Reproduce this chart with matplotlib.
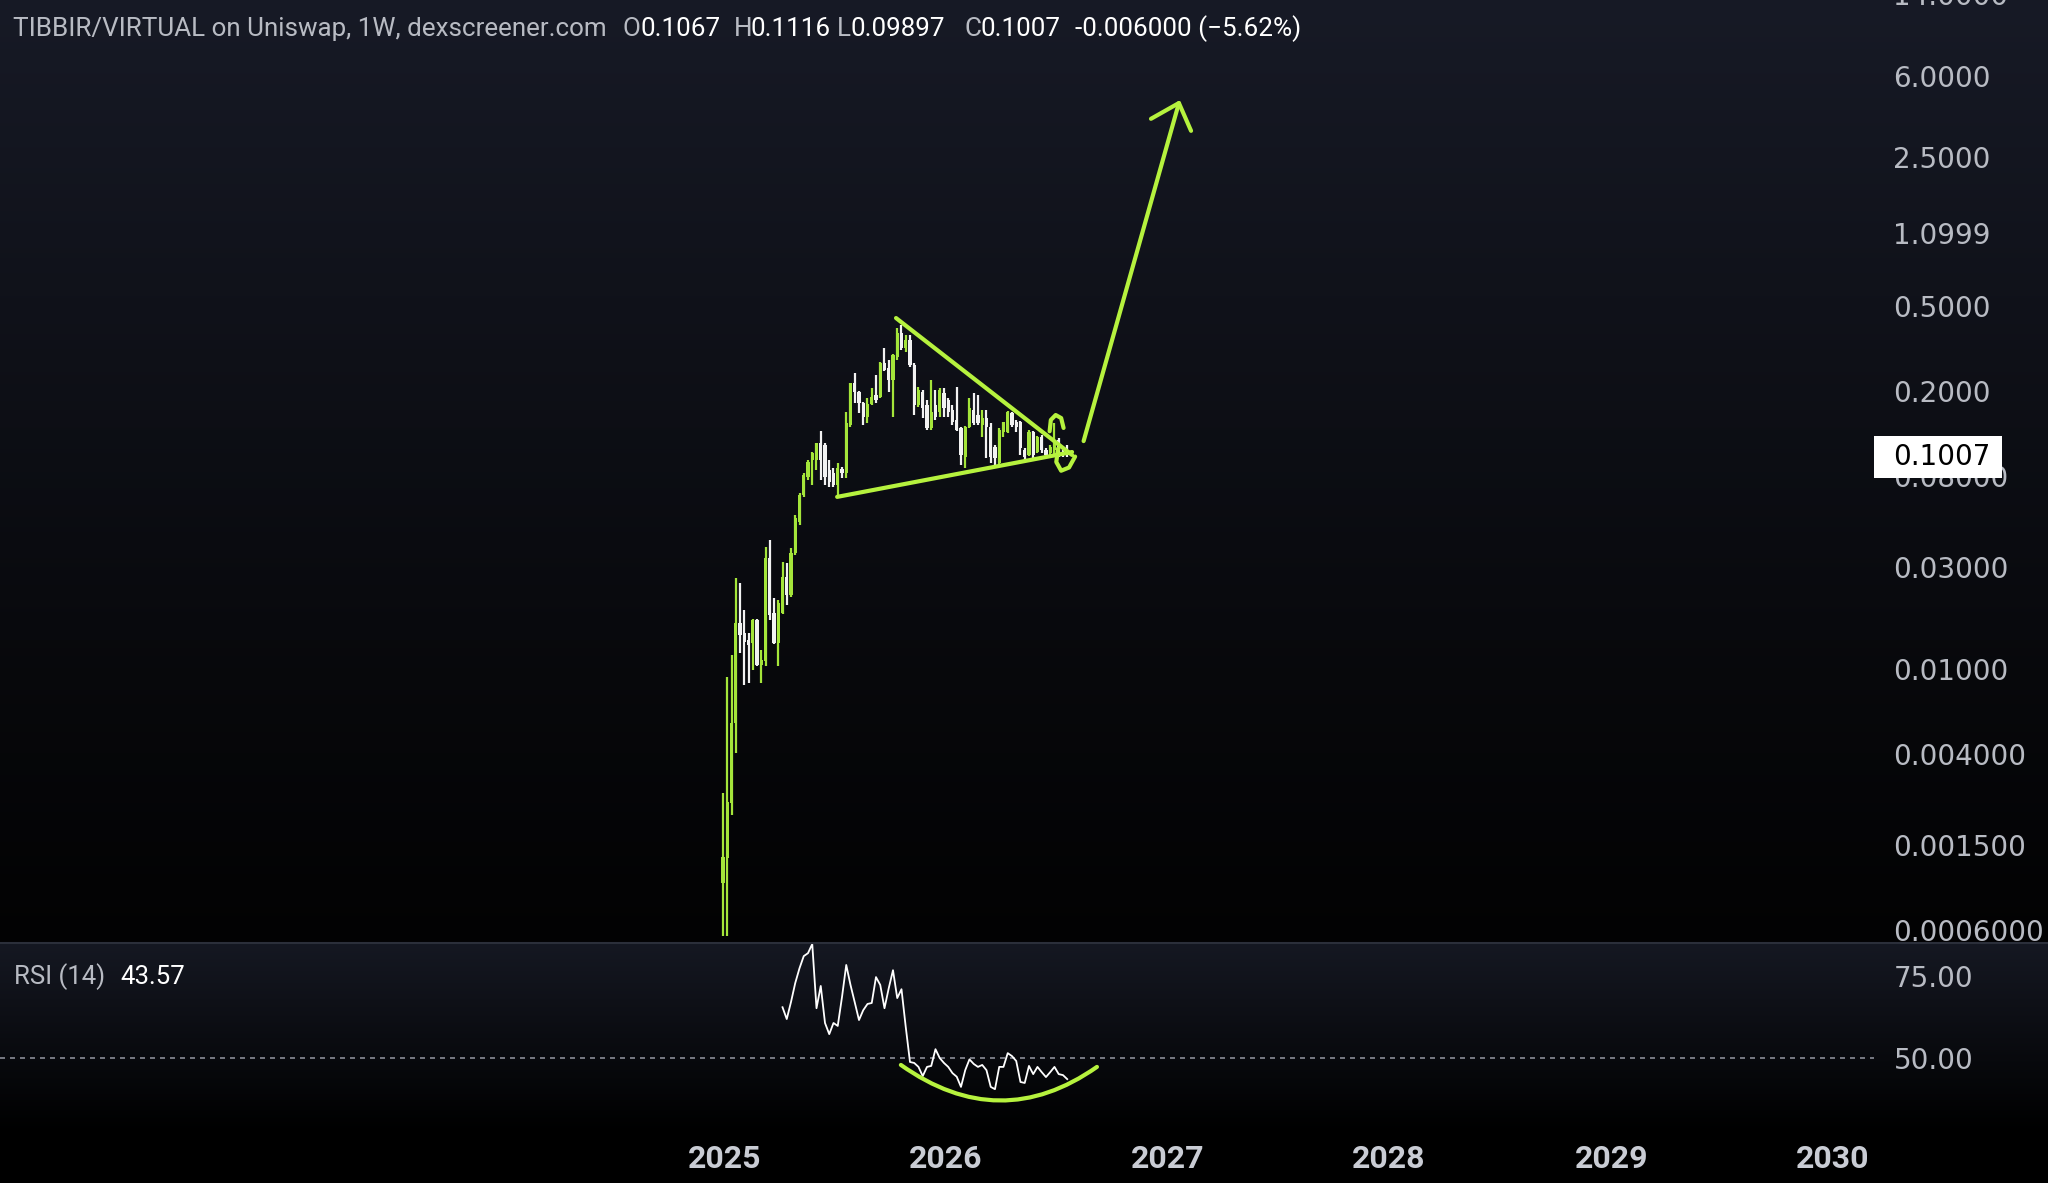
import numpy as np
import pandas as pd
import matplotlib
matplotlib.use("Agg")
import matplotlib.pyplot as plt
import matplotlib.dates as mdates
import matplotlib.transforms as mtransforms
from matplotlib.path import Path
from matplotlib.patches import PathPatch, Rectangle

W, H = 2048, 1183

# --- weekly candles ---
weeks = pd.date_range("2024-12-30", periods=82, freq="7D")

opens = [0.00100, 0.00131, 0.00237, 0.0056, 0.0164, 0.0148, 0.0137, 0.0133, 0.0170, 0.0105,
         0.0109, 0.0332, 0.0184, 0.0133, 0.0184, 0.0271, 0.0223, 0.0350, 0.0489, 0.0655,
         0.0795, 0.0954, 0.0954, 0.1147, 0.1122, 0.0857, 0.0830, 0.0729, 0.0865, 0.0830,
         0.1392, 0.2190, 0.1987, 0.1765, 0.1518, 0.1745, 0.1924, 0.1883, 0.2718, 0.2575,
         0.2262, 0.2900, 0.3756, 0.3195, 0.3484, 0.2660, 0.1727, 0.1987, 0.1727, 0.1348,
         0.1727, 0.1602, 0.1965, 0.1823, 0.1637, 0.1469, 0.1348, 0.0985, 0.1362, 0.1637,
         0.1551, 0.1392, 0.1500, 0.1362, 0.1098, 0.0923, 0.1290, 0.1290, 0.1585, 0.1438,
         0.1438, 0.1063, 0.1007, 0.1290, 0.1040, 0.1224, 0.1063, 0.1029, 0.1063, 0.1184,
         0.1040, 0.1067]
highs = [0.00263, 0.0092, 0.0117, 0.0268, 0.0254, 0.0190, 0.0148, 0.0172, 0.0172, 0.0123,
         0.0374, 0.0403, 0.0216, 0.0211, 0.0318, 0.0315, 0.0370, 0.0528, 0.0669, 0.0830,
         0.0954, 0.1040, 0.1150, 0.1305, 0.1147, 0.0954, 0.0875, 0.0923, 0.0885, 0.1602,
         0.2200, 0.2439, 0.2000, 0.1780, 0.1863, 0.2075, 0.2388, 0.2748, 0.3195, 0.2807,
         0.2990, 0.3970, 0.4096, 0.3677, 0.3677, 0.2718, 0.2100, 0.2031, 0.1823, 0.2262,
         0.2031, 0.2075, 0.2075, 0.1863, 0.1727, 0.2100, 0.1362, 0.1370, 0.1863, 0.1965,
         0.1924, 0.1637, 0.1637, 0.1422, 0.1122, 0.1348, 0.1445, 0.1620, 0.1602, 0.1469,
         0.1450, 0.1086, 0.1319, 0.1300, 0.1235, 0.1250, 0.1086, 0.1122, 0.1422, 0.1210,
         0.1063, 0.1116]
lows = [0.00056, 0.00056, 0.00208, 0.00406, 0.0119, 0.0084, 0.0086, 0.0099, 0.0103, 0.0086,
        0.0103, 0.0170, 0.0131, 0.0103, 0.0182, 0.0200, 0.0218, 0.0343, 0.0474, 0.0641,
        0.0769, 0.0729, 0.0857, 0.0769, 0.0729, 0.0714, 0.0714, 0.0655, 0.0785, 0.0785,
        0.1362, 0.1765, 0.1585, 0.1392, 0.1422, 0.1727, 0.1765, 0.1860, 0.2495, 0.1987,
        0.1518, 0.2807, 0.3127, 0.3060, 0.2605, 0.1551, 0.1690, 0.1500, 0.1319, 0.1319,
        0.1469, 0.1518, 0.1518, 0.1518, 0.1392, 0.1300, 0.0904, 0.0875, 0.1348, 0.1392,
        0.1392, 0.1224, 0.0975, 0.0923, 0.0904, 0.0915, 0.1224, 0.1270, 0.1362, 0.1290,
        0.1007, 0.0954, 0.0995, 0.0975, 0.1029, 0.1029, 0.0985, 0.1007, 0.1007, 0.0985,
        0.0985, 0.09897]
closes = [0.00132, 0.00239, 0.0056, 0.0164, 0.0145, 0.0134, 0.0130, 0.0170, 0.0105, 0.0111,
          0.0332, 0.0180, 0.0133, 0.0204, 0.0271, 0.0223, 0.0350, 0.0511, 0.0655, 0.0812,
          0.0935, 0.1029, 0.1147, 0.0954, 0.0795, 0.0753, 0.0729, 0.0875, 0.0830, 0.1422,
          0.2190, 0.1987, 0.1765, 0.1518, 0.1745, 0.1883, 0.1823, 0.2718, 0.2520, 0.2262,
          0.2963, 0.3756, 0.3195, 0.3484, 0.2660, 0.1727, 0.2031, 0.1672, 0.1348, 0.1602,
          0.1518, 0.2031, 0.1672, 0.1602, 0.1438, 0.1319, 0.1007, 0.1362, 0.1672, 0.1422,
          0.1422, 0.1500, 0.1362, 0.0985, 0.0975, 0.1319, 0.1438, 0.1602, 0.1392, 0.1362,
          0.1086, 0.0985, 0.1290, 0.1007, 0.1224, 0.1063, 0.1007, 0.1098, 0.1184, 0.1040,
          0.1007, 0.1007]

# RSI(14), starts on the 15th candle
rsi_vals = [65.5, 61.9, 67.1, 72.9, 77.4, 81.1, 82.0, 84.8, 65.2, 72.0,
            60.7, 57.3, 60.7, 59.8, 68.6, 78.4, 72.3, 67.0, 61.6, 64.6,
            66.5, 66.8, 74.7, 72.3, 65.2, 71.3, 76.8, 68.3, 71.0, 59.5,
            48.8, 48.5, 47.3, 44.5, 47.3, 47.6, 52.7, 50.0, 48.5, 47.3,
            45.4, 44.3, 41.2, 46.3, 49.6, 48.2, 47.3, 47.9, 46.3, 41.2,
            40.5, 47.3, 47.3, 51.5, 50.6, 49.1, 42.7, 42.4, 47.6, 45.1,
            47.3, 45.7, 44.2, 45.7, 47.3, 45.1, 44.8, 43.57]

price_ticks = [6.0, 2.5, 1.0999, 0.5, 0.2, 0.08, 0.03, 0.01, 0.004, 0.0015, 0.0006]
price_labels = ["6.0000", "2.5000", "1.0999", "0.5000", "0.2000", "0.08000", "0.03000",
                "0.01000", "0.004000", "0.001500", "0.0006000"]
years = [2025, 2026, 2027, 2028, 2029, 2030]

# hand drawn annotations (date, price)
upper_line = (["2025-10-11", "2026-07-28"], [0.441, 0.1007])
lower_line = (["2025-07-06", "2026-07-28"], [0.0641, 0.1040])
arrow_shaft = (["2026-08-16", "2027-01-20"], [0.117, 4.48])
arrow_head = (["2026-12-05", "2027-01-20", "2027-02-09"], [3.78, 4.48, 3.32])
loop_top = (["2026-06-21", "2026-06-23", "2026-07-01", "2026-07-10", "2026-07-14"],
            [0.1300, 0.1469, 0.1550, 0.1500, 0.1348])
loop_bottom = (["2026-07-05", "2026-07-02", "2026-07-10", "2026-07-23", "2026-08-02"],
               [0.1080, 0.0934, 0.0850, 0.0880, 0.0990])
rsi_bowl = (["2025-10-19", "2026-03-31", "2026-09-07"], [47.9, 26.5, 47.3])

GREEN = "#a4e53a"
WHITE = "#f2f2f2"
LIME = "#b6f23e"
TXT = "#b8bbc3"

fig = plt.figure(figsize=(W / 100, H / 100), dpi=100)
fig.patch.set_facecolor("black")

# background gradient
top1 = np.array([0x17, 0x1a, 0x26]) / 255
top2 = np.array([0x15, 0x18, 0x22]) / 255
grad = np.zeros((H, 1, 3))
for r in range(H):
    if r < 943:
        t = r / 943
        grad[r, 0] = top1 * (1 - t) ** 1.1 + np.array([0.01, 0.01, 0.012]) * t
    else:
        t = min((r - 943) / 190, 1)
        grad[r, 0] = top2 * (1 - t)
bg = fig.add_axes([0, 0, 1, 1], zorder=-10)
bg.imshow(grad, aspect="auto", extent=[0, 1, 0, 1], interpolation="bilinear")
bg.axis("off")

pane_w = 1874 / W
ax = fig.add_axes([0, 1 - 943 / H, pane_w, 943 / H])
ax_rsi = fig.add_axes([0, 1 - 1120 / H, pane_w, 177 / H], sharex=ax)
for a in (ax, ax_rsi):
    a.set_facecolor("none")
    for s in a.spines.values():
        s.set_visible(False)

x = mdates.date2num(weeks)
o = np.array(opens); h = np.array(highs); l = np.array(lows); c = np.array(closes)
up = c >= o
cols = np.where(up, GREEN, WHITE)
ax.vlines(x, l, h, colors=cols, linewidth=1.6, zorder=3)
ax.bar(x, np.abs(c - o), bottom=np.minimum(o, c), width=5.4, color=cols,
       linewidth=0, zorder=4)

ax.set_yscale("log")
ax.set_ylim(0.000522, 13.61)
ax.set_xlim(pd.Timestamp("2021-09-26"), pd.Timestamp("2030-03-10"))
ax.yaxis.tick_right()
ax.yaxis.set_minor_locator(matplotlib.ticker.NullLocator())
ax.set_yticks(price_ticks)
ax.set_yticklabels(price_labels)
ax.tick_params(axis="y", length=0, pad=14, labelsize=20, labelcolor=TXT)
for t in ax.get_yticklabels():
    t.set_family("DejaVu Sans")
ax.tick_params(axis="x", which="both", bottom=False, labelbottom=False)
trans = mtransforms.blended_transform_factory(ax.transAxes, ax.transData)
ax.text(1 + 19 / 1874, 14.0, "14.0000", transform=trans, clip_on=False, va="center",
        ha="left", fontsize=20, color=TXT, family="DejaVu Sans")

# annotations
def dn(lst):
    return mdates.date2num(pd.to_datetime(lst))

lw = 3.0
for seg in (upper_line, lower_line, arrow_shaft, arrow_head, loop_top, loop_bottom):
    ax.plot(dn(seg[0]), seg[1], color=LIME, lw=lw, solid_capstyle="round",
            solid_joinstyle="round", zorder=6, clip_on=False)

# RSI pane
xr = x[14:]
ax_rsi.plot(xr, rsi_vals, color="white", lw=1.3, zorder=3)
ax_rsi.axhline(50, color="#8a8d96", lw=1.2, ls=(0, (3, 3)), zorder=2)
bx = dn(rsi_bowl[0])
bowl = Path(list(zip(bx, rsi_bowl[1])), [Path.MOVETO, Path.CURVE3, Path.CURVE3])
ax_rsi.add_patch(PathPatch(bowl, fill=False, edgecolor=LIME, lw=lw, capstyle="round",
                           zorder=5))
ax_rsi.set_ylim(31.1, 85.1)
ax_rsi.yaxis.tick_right()
ax_rsi.set_yticks([75, 50])
ax_rsi.set_yticklabels(["75.00", "50.00"])
ax_rsi.tick_params(axis="y", length=0, pad=14, labelsize=20, labelcolor=TXT)
for t in ax_rsi.get_yticklabels():
    t.set_family("DejaVu Sans")
ax_rsi.set_xticks([pd.Timestamp(f"{y}-01-01") for y in years])
ax_rsi.set_xticklabels([str(y) for y in years])
ax_rsi.tick_params(axis="x", length=0, pad=17.5, labelsize=23, labelcolor="#c9ccd4")
for t in ax_rsi.get_xticklabels():
    t.set_family("Roboto")
    t.set_fontweight("bold")

# pane separator
fig.add_artist(plt.Line2D([0, 1], [1 - 943 / H, 1 - 943 / H], color="#2b2f3a", lw=1.5))

# last price label
fig.add_artist(Rectangle((1874 / W, 1 - 478 / H), 128 / W, 42 / H, transform=fig.transFigure,
                         facecolor="white", edgecolor="none", zorder=10))
fig.text(1893 / W, 1 - 457 / H, "0.1007", color="black", fontsize=20, family="DejaVu Sans",
         va="center", ha="left", zorder=11)

# header
def ptext(px, py, s, color, size=18.7):
    fig.text(px / W, 1 - py / H, s, color=color, fontsize=size, family="Roboto",
             va="center", ha="left")

ptext(13, 29, "TIBBIR/VIRTUAL on Uniswap, 1W, dexscreener.com", TXT)
ptext(623, 29, "O", TXT)
ptext(640, 29, "0.1067", "white")
ptext(734, 29, "H", TXT)
ptext(750, 29, "0.1116", "white")
ptext(837, 29, "L", TXT)
ptext(851, 29, "0.09897", "white")
ptext(964, 29, "C", TXT)
ptext(980, 29, "0.1007", "white")
ptext(1075, 29, "-0.006000 (\u22125.62%)", "white")

ptext(14, 977, "RSI (14)", TXT, 18.5)
ptext(120, 977, "43.57", "white", 18.5)

fig.savefig("out.png", dpi=100, facecolor=fig.get_facecolor())
